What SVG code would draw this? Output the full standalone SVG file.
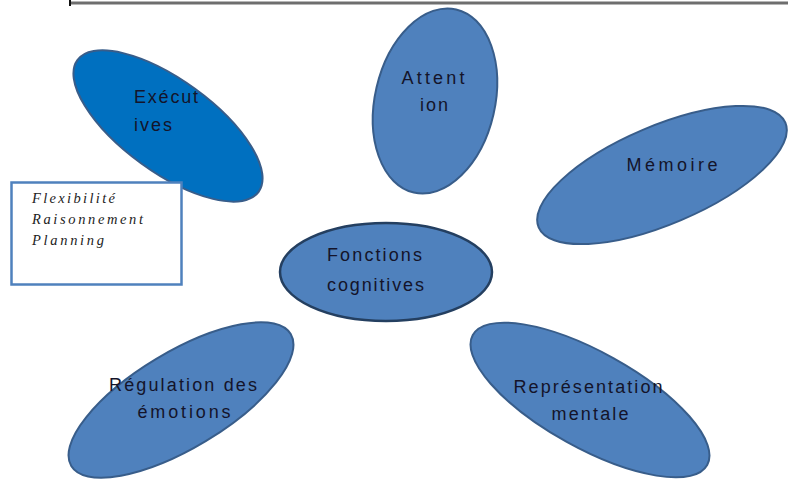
<svg xmlns="http://www.w3.org/2000/svg" width="788" height="481" viewBox="0 0 788 481">
<style>
.el{fill:#4F81BD;stroke:#385D8A;stroke-width:2}
.lbl{font-family:"Liberation Sans",Arial,sans-serif;font-size:18px;fill:#14142a}
.box{font-family:"Liberation Serif","Times New Roman",serif;font-style:italic;font-size:14.5px;fill:#222}
</style>
<rect width="788" height="481" fill="#fff"/>
<g id="topline">
<line x1="69" y1="3" x2="788" y2="3" stroke="#6e6e6e" stroke-width="3"/>
<line x1="70" y1="0" x2="70" y2="6" stroke="#111" stroke-width="2"/>
</g>
<g id="attention">
<ellipse class="el" cx="435" cy="101" rx="60" ry="94" transform="rotate(13 435 101)"/>
<text class="lbl" x="433" y="84" text-anchor="middle" textLength="63" lengthAdjust="spacing">Attent</text>
<text class="lbl" x="434" y="111" text-anchor="middle" textLength="28" lengthAdjust="spacing">ion</text>
</g>
<g id="executives">
<ellipse cx="168" cy="126" rx="112" ry="46" transform="rotate(36 168 126)" fill="#0070C0" stroke="#385D8A" stroke-width="2"/>
<text class="lbl" x="134" y="103" textLength="64" lengthAdjust="spacing">Exécut</text>
<text class="lbl" x="134" y="131" textLength="38" lengthAdjust="spacing">ives</text>
</g>
<g id="memoire">
<ellipse class="el" cx="662" cy="175" rx="134" ry="49" transform="rotate(-23 662 175)"/>
<text class="lbl" x="672" y="171" text-anchor="middle" textLength="91" lengthAdjust="spacing">Mémoire</text>
</g>
<g id="liste">
<rect x="11.5" y="182.5" width="170" height="102" fill="#fff" stroke="#4F81BD" stroke-width="2.5"/>
<text class="box" x="32" y="203" textLength="83" lengthAdjust="spacing">Flexibilité</text>
<text class="box" x="32" y="224" textLength="111" lengthAdjust="spacing">Raisonnement</text>
<text class="box" x="32" y="245" textLength="72" lengthAdjust="spacing">Planning</text>
</g>
<g id="fonctions">
<ellipse cx="386" cy="272" rx="106" ry="49" fill="#4F81BD" stroke="#243F60" stroke-width="2.5"/>
<text class="lbl" x="327" y="261" textLength="95" lengthAdjust="spacing">Fonctions</text>
<text class="lbl" x="327" y="291" textLength="97" lengthAdjust="spacing">cognitives</text>
</g>
<g id="regulation">
<ellipse class="el" cx="181" cy="400" rx="128" ry="48" transform="rotate(-31 181 400)"/>
<text class="lbl" x="183" y="391" text-anchor="middle" textLength="148" lengthAdjust="spacing">Régulation des</text>
<text class="lbl" x="184" y="418" text-anchor="middle" textLength="93" lengthAdjust="spacing">émotions</text>
</g>
<g id="representation">
<ellipse class="el" cx="590" cy="400" rx="134" ry="48" transform="rotate(29 590 400)"/>
<text class="lbl" x="588" y="393" text-anchor="middle" textLength="149" lengthAdjust="spacing">Représentation</text>
<text class="lbl" x="590" y="420" text-anchor="middle" textLength="77" lengthAdjust="spacing">mentale</text>
</g>
<g id="connectors"/>
</svg>
